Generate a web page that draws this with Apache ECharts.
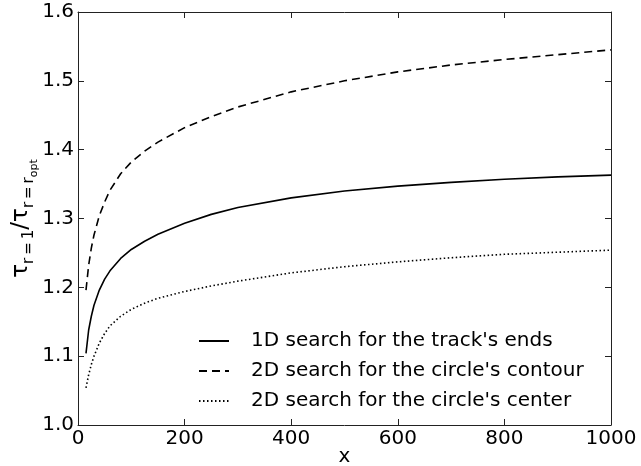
<!DOCTYPE html>
<html>
<head>
<meta charset="utf-8">
<script src="https://cdn.jsdelivr.net/npm/echarts@6/dist/echarts.min.js"></script>
<style>
  html, body { margin: 0; padding: 0; background: #fff; }
  #chart { width: 641px; height: 466px; }
</style>
</head>
<body>
<div id="chart"></div>
<script>
// Sample positions along x
const xValues = [15, 20, 25, 30, 40, 50, 60, 80, 100, 125, 150, 200, 250, 300, 400, 500, 600, 700, 800, 900, 1000];

// Ratio for each search strategy
const trackEnds = [1.104, 1.138, 1.158, 1.174, 1.196, 1.212, 1.224, 1.242, 1.255, 1.267, 1.277, 1.293, 1.306, 1.316, 1.330, 1.340, 1.347, 1.3525, 1.357, 1.3605, 1.363];
const circleContour = [1.196, 1.232, 1.257, 1.276, 1.304, 1.324, 1.341, 1.365, 1.382, 1.398, 1.411, 1.432, 1.448, 1.462, 1.484, 1.500, 1.513, 1.523, 1.531, 1.538, 1.545];
const circleCenter = [1.054, 1.073, 1.088, 1.100, 1.119, 1.133, 1.144, 1.158, 1.168, 1.177, 1.184, 1.194, 1.202, 1.209, 1.221, 1.230, 1.237, 1.243, 1.248, 1.251, 1.254];

const seriesNames = [
  "1D search for the track's ends",
  "2D search for the circle's contour",
  "2D search for the circle's center"
];

const xTicks = { min: 0, max: 1000, interval: 200 };
const yTicks = { min: 1.0, max: 1.6, interval: 0.1 };

const FONT = 'DejaVu Sans';
const zip = (xs, ys) => xs.map((x, i) => [x, ys[i]]);

const chart = echarts.init(document.getElementById('chart'), null, { renderer: 'canvas' });

const axisLine = { show: true, onZero: false, lineStyle: { color: '#222', width: 1 } };
const tickIn = { show: true, inside: true, length: 6, lineStyle: { color: '#222', width: 1 } };

const lineSeries = (name, values, dash) => ({
  name, type: 'line', data: zip(xValues, values),
  xAxisIndex: 0, yAxisIndex: 0,
  showSymbol: false, symbol: 'none', smooth: false,
  lineStyle: { color: '#000', width: 1.6, type: dash },
  itemStyle: { color: '#000' }
});

chart.setOption({
  animation: false,
  backgroundColor: '#fff',
  textStyle: { fontFamily: FONT },
  grid: { left: 78, right: 30, top: 12, bottom: 41, containLabel: false, outerBoundsMode: 'none' },
  xAxis: [
    {
      type: 'value', min: xTicks.min, max: xTicks.max, interval: xTicks.interval,
      position: 'bottom',
      axisLine, axisTick: tickIn, splitLine: { show: false },
      axisLabel: { color: '#000', fontSize: 20, fontFamily: FONT, margin: 4, formatter: v => String(v) },
      name: 'x', nameLocation: 'middle', nameGap: 22, nameMoveOverlap: false,
      nameTextStyle: { color: '#000', fontSize: 20, fontFamily: FONT }
    },
    {
      type: 'value', min: xTicks.min, max: xTicks.max, interval: xTicks.interval,
      position: 'top',
      axisLine, axisTick: tickIn, splitLine: { show: false },
      axisLabel: { show: false }
    }
  ],
  yAxis: [
    {
      type: 'value', min: yTicks.min, max: yTicks.max, interval: yTicks.interval,
      position: 'left',
      axisLine, axisTick: tickIn, splitLine: { show: false },
      axisLabel: {
        color: '#000', fontSize: 20, fontFamily: FONT, margin: 4,
        formatter: v => v.toFixed(1)
      },
      name: '{t|τ}{s|r\u2009=\u20091}{t|/τ}{s|r\u2009=\u2009r}{ss|opt}',
      nameLocation: 'middle', nameRotate: 90, nameGap: 41, nameMoveOverlap: false,
      nameTextStyle: {
        color: '#000', fontFamily: FONT,
        rich: {
          t: { fontSize: 23, fontFamily: FONT, color: '#000', lineHeight: 32, verticalAlign: 'middle' },
          s: { fontSize: 15, fontFamily: FONT, color: '#000', lineHeight: 15, verticalAlign: 'bottom' },
          ss: { fontSize: 11, fontFamily: FONT, color: '#000', lineHeight: 11, verticalAlign: 'bottom', padding: [0, 0, -3, 0] }
        }
      }
    },
    {
      type: 'value', min: yTicks.min, max: yTicks.max, interval: yTicks.interval,
      position: 'right',
      axisLine, axisTick: tickIn, splitLine: { show: false },
      axisLabel: { show: false }
    }
  ],
  legend: {
    show: true,
    orient: 'vertical',
    left: 193, top: 324,
    itemWidth: 30, itemHeight: 14, itemGap: 6,
    data: seriesNames,
    itemStyle: { opacity: 0 },
    textStyle: { color: '#000', fontSize: 20, fontFamily: FONT, lineHeight: 24, padding: [0, 0, 0, 17] }
  },
  series: [
    lineSeries(seriesNames[0], trackEnds, 'solid'),
    lineSeries(seriesNames[1], circleContour, [8, 5]),
    lineSeries(seriesNames[2], circleCenter, [1.5, 2.5])
  ]
});
</script>
</body>
</html>
